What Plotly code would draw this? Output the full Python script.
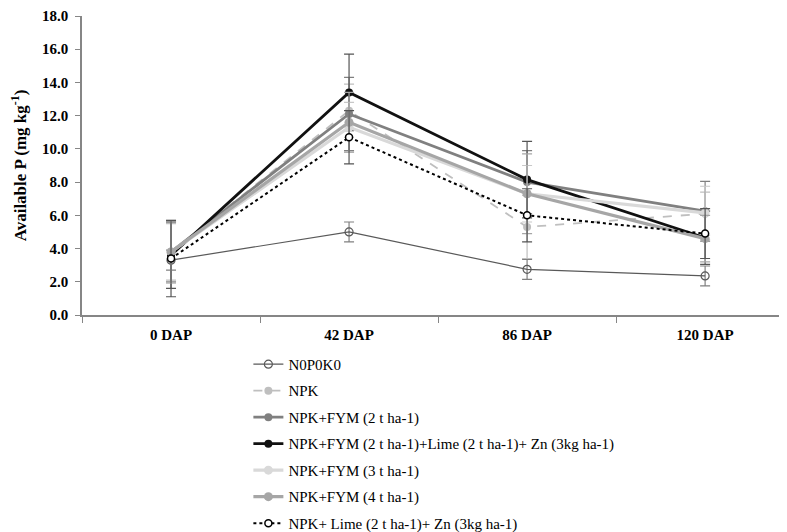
import plotly.graph_objects as go

categories = ["0 DAP", "42 DAP", "86 DAP", "120 DAP"]

series_names = [
    "N0P0K0",
    "NPK",
    "NPK+FYM (2 t ha-1)",
    "NPK+FYM (2 t ha-1)+Lime (2 t ha-1)+ Zn (3kg ha-1)",
    "NPK+FYM (3 t ha-1)",
    "NPK+FYM (4 t ha-1)",
    "NPK+ Lime (2 t ha-1)+ Zn (3kg ha-1)",
]

n0p0k0 = [3.3, 5.0, 2.75, 2.35]
npk = [3.8, 12.3, 5.3, 6.1]
fym2 = [3.8, 12.1, 8.0, 6.25]
fym2_lime_zn = [3.6, 13.4, 8.15, 4.65]
fym3 = [3.8, 11.3, 7.3, 6.15]
fym4 = [3.8, 11.6, 7.3, 4.6]
lime_zn = [3.4, 10.7, 6.0, 4.9]

err_n0p0k0 = [0.6, 0.6, 0.6, 0.6]
err_npk = [1.7, 1.6, 1.9, 1.3]
err_fym2 = [1.8, 2.2, 1.9, 1.8]
err_fym2_lime_zn = [2.0, 2.3, 2.3, 1.6]
err_fym3 = [1.9, 1.5, 1.7, 1.6]
err_fym4 = [1.8, 1.8, 2.4, 1.4]
err_lime_zn = [2.3, 1.6, 1.6, 1.5]

values = [n0p0k0, npk, fym2, fym2_lime_zn, fym3, fym4, lime_zn]
errors = [err_n0p0k0, err_npk, err_fym2, err_fym2_lime_zn, err_fym3, err_fym4, err_lime_zn]

styles = [
    dict(color="#595959", width=1.2, dash="solid", msym="circle-open", msize=8, mcolor="#595959", mline=1.2, ecolor="#808080"),
    dict(color="#BFBFBF", width=1.8, dash="dash", msym="circle", msize=8, mcolor="#BFBFBF", mline=0, ecolor="#BFBFBF"),
    dict(color="#808080", width=2.8, dash="solid", msym="circle", msize=8, mcolor="#808080", mline=0, ecolor="#808080"),
    dict(color="#111111", width=2.8, dash="solid", msym="circle", msize=8, mcolor="#111111", mline=0, ecolor="#555555"),
    dict(color="#D9D9D9", width=3.2, dash="solid", msym="circle", msize=9, mcolor="#D9D9D9", mline=0, ecolor="#C8C8C8"),
    dict(color="#A6A6A6", width=3.2, dash="solid", msym="circle", msize=9, mcolor="#A6A6A6", mline=0, ecolor="#A6A6A6"),
    dict(color="#000000", width=2.0, dash="dot", msym="circle", msize=7, mcolor="#FFFFFF", mline=1.5, ecolor="#555555"),
]

FONT = "Times New Roman"

fig = go.Figure()
for i, (name, vals, errs, st) in enumerate(zip(series_names, values, errors, styles)):
    fig.add_trace(go.Scatter(
        x=categories, y=vals, name=name, mode="lines+markers",
        legendgroup=f"g{i}",
        line=dict(color=st["color"], width=st["width"], dash=st["dash"]),
        marker=dict(symbol=st["msym"], size=st["msize"], color=st["mcolor"],
                    line=dict(color=st["color"], width=st["mline"])),
        error_y=dict(type="data", array=errs, visible=True, color=st["ecolor"], thickness=1.2, width=5),
    ))

axis_color = "#868686"
# page body adds an 8px offset; margins compensate for it
fig.update_layout(
    width=787, height=532,
    margin=dict(l=74, r=8, t=8, b=225, autoexpand=False),
    plot_bgcolor="white", paper_bgcolor="white",
    font=dict(family=FONT, color="black", size=15),
    showlegend=True,
    legend=dict(
        x=0.236, y=-0.11, xanchor="left", yanchor="top",
        traceorder="grouped", tracegroupgap=4,
        font=dict(family=FONT, size=15, color="black"),
        bgcolor="rgba(0,0,0,0)",
    ),
    xaxis=dict(
        type="category", range=[-0.5, 3.46],
        showline=True, linecolor=axis_color, linewidth=1.5,
        ticks="outside", tickson="boundaries", ticklen=6, tickcolor=axis_color,
        showgrid=False, zeroline=False, automargin=False, ticklabelstandoff=5,
        tickfont=dict(family=FONT, size=15, color="black", weight="bold"),
    ),
    yaxis=dict(
        range=[0, 18], dtick=2, tickformat=".1f",
        showline=True, linecolor=axis_color, linewidth=1.5,
        ticks="outside", ticklen=5, tickcolor=axis_color,
        showgrid=False, zeroline=False, automargin=False, ticklabelstandoff=4,
        tickfont=dict(family=FONT, size=15, color="black", weight="bold"),
        title=dict(text="<b>Available P (mg kg<sup>-1</sup>)</b>", standoff=12,
                   font=dict(family=FONT, size=17, color="black")),
    ),
)

fig.write_html("out.html")
